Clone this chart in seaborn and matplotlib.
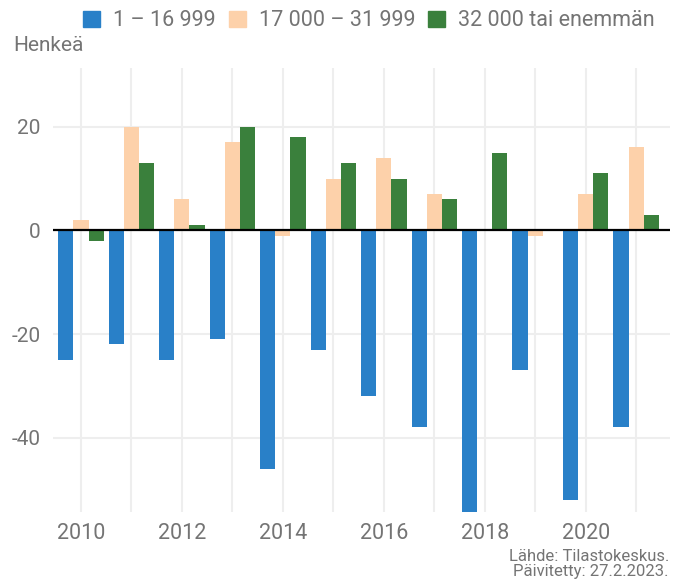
import numpy as np
import pandas as pd
import matplotlib
matplotlib.use("Agg")
import matplotlib.pyplot as plt
import seaborn as sns

# data
vuodet = [2010, 2011, 2012, 2013, 2014, 2015, 2016, 2017, 2018, 2019, 2020, 2021]
ryhmat = ["1 – 16 999", "17 000 – 31 999", "32 000 tai enemmän"]
pienet = [-25, -22, -25, -21, -46, -23, -32, -38, -55, -27, -52, -38]
keski = [2, 20, 6, 17, -1, 10, 14, 7, 0, -1, 7, 16]
suuret = [-2, 13, 1, 20, 18, 13, 10, 6, 15, 0, 11, 3]
varit = ["#2980C8", "#FDD1AA", "#3A803C"]

df = pd.DataFrame({
    "vuosi": vuodet * 3,
    "ryhma": np.repeat(ryhmat, len(vuodet)),
    "arvo": pienet + keski + suuret,
})

sns.set_style("white")
plt.rcParams["font.family"] = ["Roboto", "DejaVu Sans"]
harmaa = "#747474"

fig = plt.figure(figsize=(6.75, 5.81), dpi=100)
ax = fig.add_axes([0.0785, 0.1196, 0.914, 0.7633])

sns.barplot(data=df, x="vuosi", y="arvo", hue="ryhma", palette=varit,
            width=0.9, saturation=1, linewidth=0, ax=ax, legend=False, zorder=3)

ax.set_xlim(-0.555, 11.67)
ax.set_ylim(-54.2, 31.3)
ax.set_xticks(range(len(vuodet)))
ax.set_xticklabels([str(v) if v % 2 == 0 else "" for v in vuodet])
ax.set_yticks([-40, -20, 0, 20])
ax.set_yticklabels(["-40", "-20", "0", "20"])
ax.grid(True, color="#EEEEEE", linewidth=1.5, zorder=0)
ax.axhline(0, color="black", linewidth=1.6, zorder=4)
for s in ax.spines.values():
    s.set_visible(False)
ax.tick_params(axis="x", length=0, labelsize=15.5, labelcolor=harmaa, pad=8)
ax.tick_params(axis="y", length=0, labelsize=15, labelcolor=harmaa, pad=9)
ax.set_xlabel("")
ax.set_ylabel("")

kahvat = [plt.Rectangle((0, 0), 1, 1, color=c) for c in varit]
fig.legend(kahvat, ryhmat, loc="center left", bbox_to_anchor=(0.123, 0.964),
           ncol=3, frameon=False, fontsize=15.5, labelcolor=harmaa,
           handlelength=0.8, handleheight=0.8, handletextpad=0.6,
           columnspacing=0.6, borderpad=0, borderaxespad=0)

fig.text(0.019, 0.922, "Henkeä", fontsize=15, color=harmaa, va="center")
fig.text(0.991, 0.030, "Lähde: Tilastokeskus.\nPäivitetty: 27.2.2023.",
         fontsize=12, color=harmaa, ha="right", va="center", linespacing=1.0)

fig.savefig("out.png", dpi=100)
